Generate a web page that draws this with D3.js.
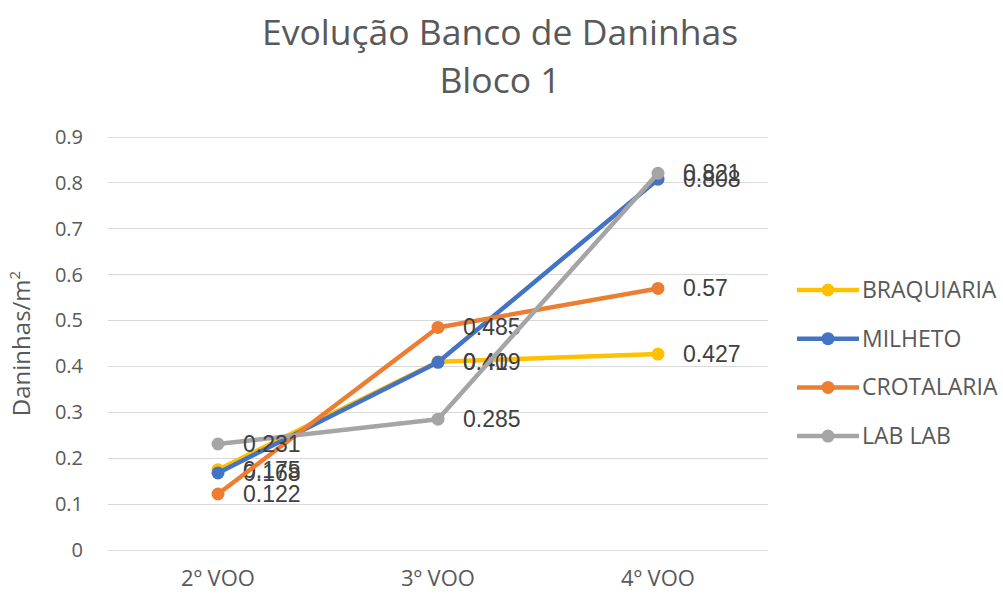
<!DOCTYPE html>
<html lang="en">
<head>
<meta charset="utf-8">
<title>Evolução Banco de Daninhas</title>
<script src="https://d3js.org/d3.v7.min.js"></script>
<style>
  body { margin: 0; background: #fff; }
  .axis path, .axis line { display: none; }
  .axis text { font-family: "Open Sans", sans-serif; font-size: 20px; fill: #595959; }
  .grid line { stroke: #d9d9d9; stroke-width: 1; shape-rendering: crispEdges; }
</style>
</head>
<body>
<script>
// categories and values
var categories = ["2º VOO", "3º VOO", "4º VOO"];
var seriesNames = ["BRAQUIARIA", "MILHETO", "CROTALARIA", "LAB LAB"];
var braquiaria = [0.175, 0.41, 0.427];
var milheto = [0.168, 0.409, 0.808];
var crotalaria = [0.122, 0.485, 0.57];
var lablab = [0.231, 0.285, 0.821];
var colors = ["#FFC000", "#4472C4", "#ED7D31", "#A5A5A5"];
var yTicks = [0, 0.1, 0.2, 0.3, 0.4, 0.5, 0.6, 0.7, 0.8, 0.9];

var series = [braquiaria, milheto, crotalaria, lablab].map(function(v, i) {
  return { name: seriesNames[i], values: v, color: colors[i] };
});

var w = 1003, h = 596;
var pLeft = 108, pRight = 768, pTop = 137, pBottom = 550;

var svg = d3.select("body").append("svg").attr("width", w).attr("height", h);

var x = d3.scaleBand().domain(categories).range([pLeft, pRight]);
var y = d3.scaleLinear().domain([0, 0.9]).range([pBottom, pTop]);

// gridlines
svg.append("g").attr("class", "grid")
  .selectAll("line").data(yTicks).enter().append("line")
  .attr("x1", pLeft).attr("x2", pRight)
  .attr("y1", function(d) { return y(d); })
  .attr("y2", function(d) { return y(d); });

// y axis
svg.append("g").attr("class", "axis")
  .attr("transform", "translate(" + (pLeft - 25) + ",0)")
  .call(d3.axisLeft(y).tickValues(yTicks).tickSize(0).tickPadding(0)
    .tickFormat(function(d) { return d === 0 ? "0" : d3.format(".1f")(d); }));

// x axis
svg.append("g").attr("class", "axis")
  .attr("transform", "translate(0," + (pBottom + 21) + ")")
  .call(d3.axisBottom(x).tickSize(0).tickPadding(0))
  .selectAll("text").attr("dy", "0.7em").style("font-size", "22px");

// title
var title = svg.append("text").attr("text-anchor", "middle")
  .attr("font-family", "Open Sans, sans-serif").attr("font-size", 35.5).attr("fill", "#595959");
title.append("tspan").attr("x", 500).attr("y", 45).text("Evolução Banco de Daninhas");
title.append("tspan").attr("x", 500).attr("y", 93).text("Bloco 1");

// y axis title
var yt = svg.append("text").attr("text-anchor", "middle")
  .attr("transform", "translate(30," + ((pTop + pBottom) / 2) + ") rotate(-90)")
  .attr("font-family", "Open Sans, sans-serif").attr("font-size", 24).attr("fill", "#595959");
yt.append("tspan").text("Daninhas/m");
yt.append("tspan").attr("font-size", 15).attr("dy", -10).text("2");

var line = d3.line()
  .x(function(d, i) { return x(categories[i]) + x.bandwidth() / 2; })
  .y(function(d) { return y(d); });

var sg = svg.selectAll(".series").data(series).enter().append("g").attr("class", "series");

sg.append("path")
  .attr("d", function(d) { return line(d.values); })
  .attr("fill", "none")
  .attr("stroke", function(d) { return d.color; })
  .attr("stroke-width", 4.5)
  .attr("stroke-linejoin", "round");

sg.selectAll("circle").data(function(d) { return d.values.map(function(v) { return { v: v, c: d.color }; }); })
  .enter().append("circle")
  .attr("cx", function(d, i) { return x(categories[i]) + x.bandwidth() / 2; })
  .attr("cy", function(d) { return y(d.v); })
  .attr("r", 6.5)
  .attr("fill", function(d) { return d.c; });

// data labels
sg.selectAll("text.lbl").data(function(d) { return d.values; })
  .enter().append("text").attr("class", "lbl")
  .attr("x", function(d, i) { return x(categories[i]) + x.bandwidth() / 2 + 25; })
  .attr("y", function(d) { return y(d); })
  .attr("dy", "0.35em")
  .attr("font-family", "Liberation Sans, Arial, sans-serif")
  .attr("font-size", 23)
  .attr("fill", "#404040")
  .text(function(d) { return d; });

// legend
var lg = svg.append("g").selectAll("g").data(series).enter().append("g")
  .attr("transform", function(d, i) { return "translate(797," + (290 + i * 48.7) + ")"; });
lg.append("line").attr("x1", 0).attr("x2", 62)
  .attr("stroke", function(d) { return d.color; }).attr("stroke-width", 4.5);
lg.append("circle").attr("cx", 31).attr("r", 6.5).attr("fill", function(d) { return d.color; });
lg.append("text").attr("x", 65).attr("dy", "0.35em")
  .attr("font-family", "Open Sans, sans-serif").attr("font-size", 23).attr("fill", "#595959")
  .text(function(d) { return d.name; });
</script>
</body>
</html>
